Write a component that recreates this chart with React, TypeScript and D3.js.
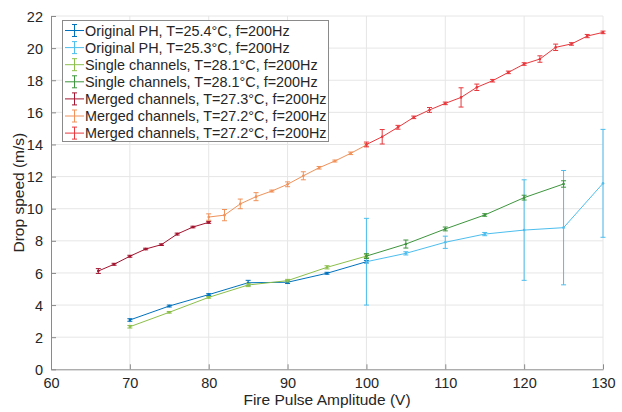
import React, { useEffect, useRef } from 'react';
import * as d3 from 'd3';

// x values (V), mean drop speed (m/s), error bar half-length
const phAX = [70, 75, 80, 85, 90, 95, 100];
const phAY = [3.07, 3.94, 4.65, 5.39, 5.42, 5.98, 6.70];
const phAE = [0.08, 0.06, 0.06, 0.15, 0.08, 0.06, 0.08];

const phBX = [100, 105, 110, 115, 120, 125, 130];
const phBY = [6.70, 7.22, 7.91, 8.42, 8.67, 8.82, 11.58];
const phBE = [2.7, 0.1, 0.38, 0.1, 3.13, 3.56, 3.36];

const singleAX = [70, 75, 80, 85, 90, 95, 100];
const singleAY = [2.65, 3.55, 4.48, 5.25, 5.52, 6.35, 7.05];
const singleAE = [0.08, 0.05, 0.05, 0.1, 0.08, 0.1, 0.08];

const singleBX = [100, 105, 110, 115, 120, 125];
const singleBY = [7.05, 7.80, 8.74, 9.61, 10.69, 11.54];
const singleBE = [0.15, 0.25, 0.12, 0.08, 0.15, 0.2];

const mergedAX = [66, 68, 70, 72, 74, 76, 78, 80];
const mergedAY = [6.12, 6.54, 7.04, 7.49, 7.76, 8.42, 8.86, 9.15];
const mergedAE = [0.15, 0.06, 0.06, 0.05, 0.05, 0.06, 0.05, 0.06];

const mergedBX = [80, 82, 84, 86, 88, 90, 92, 94, 96, 98, 100];
const mergedBY = [9.48, 9.6, 10.3, 10.75, 11.1, 11.52, 12.05, 12.55, 12.97, 13.45, 13.97];
const mergedBE = [0.2, 0.35, 0.3, 0.25, 0.06, 0.15, 0.25, 0.08, 0.06, 0.08, 0.08];

const mergedCX = [100, 102, 104, 106, 108, 110, 112, 114, 116, 118, 120, 122, 124, 126, 128, 130];
const mergedCY = [14.0, 14.48, 15.07, 15.69, 16.15, 16.56, 16.93, 17.56, 17.97, 18.49, 19.01, 19.32, 20.05, 20.26, 20.75, 20.98];
const mergedCE = [0.15, 0.45, 0.12, 0.08, 0.15, 0.08, 0.6, 0.2, 0.08, 0.08, 0.08, 0.2, 0.2, 0.08, 0.1, 0.08];

const legendLabels = [
    'Original PH, T=25.4°C, f=200Hz',
    'Original PH, T=25.3°C, f=200Hz',
    'Single channels, T=28.1°C, f=200Hz',
    'Single channels, T=28.1°C, f=200Hz',
    'Merged channels, T=27.3°C, f=200Hz',
    'Merged channels, T=27.2°C, f=200Hz',
    'Merged channels, T=27.2°C, f=200Hz',
];

const xTicks = [60, 70, 80, 90, 100, 110, 120, 130];
const yTicks = [0, 2, 4, 6, 8, 10, 12, 14, 16, 18, 20, 22];

const colors = ['#0072bd', '#4dbeee', '#8cbf4a', '#3d953d', '#a2142f', '#f0925a', '#e8383d'];

const series = [
    [phAX, phAY, phAE],
    [phBX, phBY, phBE],
    [singleAX, singleAY, singleAE],
    [singleBX, singleBY, singleBE],
    [mergedAX, mergedAY, mergedAE],
    [mergedBX, mergedBY, mergedBE],
    [mergedCX, mergedCY, mergedCE],
];

const FONT = 'Liberation Sans, Arial, sans-serif';

export default function App() {
    const ref = useRef<SVGSVGElement>(null);

    useEffect(() => {
        const svg = d3.select(ref.current);
        svg.selectAll('*').remove();

        const left = 51, right = 603, top = 16, bottom = 369.3;
        const x = d3.scaleLinear().domain([60, 130]).range([left, right]);
        const y = d3.scaleLinear().domain([0, 22]).range([bottom, top]);

        // grid
        const grid = svg.append('g');
        grid.selectAll('.vg').data(xTicks.slice(1)).enter().append('line')
            .attr('x1', d => x(d)).attr('x2', d => x(d))
            .attr('y1', top).attr('y2', bottom)
            .attr('stroke', '#e6e6e6').attr('stroke-width', 1);
        grid.selectAll('.hg').data(yTicks.slice(1)).enter().append('line')
            .attr('x1', left).attr('x2', right)
            .attr('y1', d => y(d)).attr('y2', d => y(d))
            .attr('stroke', '#e6e6e6').attr('stroke-width', 1);

        // axes (ticks inside, MATLAB style)
        const xAxis = svg.append('g')
            .attr('transform', `translate(0,${bottom})`)
            .call(d3.axisBottom(x).tickValues(xTicks).tickSizeInner(-5).tickSizeOuter(0).tickPadding(8));
        const yAxis = svg.append('g')
            .attr('transform', `translate(${left},0)`)
            .call(d3.axisLeft(y).tickValues(yTicks).tickSizeInner(-5).tickSizeOuter(0).tickPadding(8));
        [xAxis, yAxis].forEach(a => {
            a.select('.domain').attr('stroke', '#8a8a8a');
            a.selectAll('.tick line').attr('stroke', '#8a8a8a');
            a.selectAll('.tick text')
                .attr('fill', '#262626')
                .style('font-family', FONT)
                .style('font-size', '14.5px');
        });
        yAxis.selectAll('.tick text').attr('dy', '0.35em');

        // axis labels
        svg.append('text')
            .attr('x', (left + right) / 2).attr('y', 405)
            .attr('text-anchor', 'middle')
            .style('font-family', FONT).style('font-size', '15.5px')
            .attr('fill', '#262626')
            .text('Fire Pulse Amplitude (V)');
        svg.append('text')
            .attr('transform', `translate(24,${(top + bottom) / 2}) rotate(-90)`)
            .attr('text-anchor', 'middle')
            .style('font-family', FONT).style('font-size', '15.5px')
            .attr('fill', '#262626')
            .text('Drop speed (m/s)');

        // series: line + error bars + dots
        const cap = 2.5;
        series.forEach(([xs, ys, es], i) => {
            const pts = xs.map((v, j) => ({ x: v, y: ys[j], e: es[j] }));
            const g = svg.append('g');
            g.append('path')
                .datum(pts)
                .attr('fill', 'none')
                .attr('stroke', colors[i])
                .attr('stroke-width', 1)
                .attr('d', d3.line<any>().x(d => x(d.x)).y(d => y(d.y)));
            const eb = g.selectAll('.eb').data(pts).enter().append('g');
            eb.append('line')
                .attr('x1', d => x(d.x)).attr('x2', d => x(d.x))
                .attr('y1', d => y(d.y - d.e)).attr('y2', d => y(d.y + d.e))
                .attr('stroke', colors[i]).attr('stroke-width', 1);
            eb.append('line')
                .attr('x1', d => x(d.x) - cap).attr('x2', d => x(d.x) + cap)
                .attr('y1', d => y(d.y - d.e)).attr('y2', d => y(d.y - d.e))
                .attr('stroke', colors[i]).attr('stroke-width', 1);
            eb.append('line')
                .attr('x1', d => x(d.x) - cap).attr('x2', d => x(d.x) + cap)
                .attr('y1', d => y(d.y + d.e)).attr('y2', d => y(d.y + d.e))
                .attr('stroke', colors[i]).attr('stroke-width', 1);
            eb.append('circle')
                .attr('cx', d => x(d.x)).attr('cy', d => y(d.y))
                .attr('r', 1.3).attr('fill', colors[i]);
        });

        // legend
        const lg = svg.append('g');
        lg.append('rect')
            .attr('x', 62.5).attr('y', 20.5).attr('width', 266).attr('height', 121)
            .attr('fill', '#fff').attr('stroke', '#8a8a8a').attr('stroke-width', 1);
        legendLabels.forEach((label, i) => {
            const cy = 30.5 + i * 17.1;
            lg.append('line')
                .attr('x1', 65).attr('x2', 84).attr('y1', cy).attr('y2', cy)
                .attr('stroke', colors[i]).attr('stroke-width', 1);
            lg.append('line')
                .attr('x1', 74.5).attr('x2', 74.5).attr('y1', cy - 6).attr('y2', cy + 6)
                .attr('stroke', colors[i]).attr('stroke-width', 1);
            lg.append('line')
                .attr('x1', 72).attr('x2', 77).attr('y1', cy - 6).attr('y2', cy - 6)
                .attr('stroke', colors[i]).attr('stroke-width', 1);
            lg.append('line')
                .attr('x1', 72).attr('x2', 77).attr('y1', cy + 6).attr('y2', cy + 6)
                .attr('stroke', colors[i]).attr('stroke-width', 1);
            lg.append('text')
                .attr('x', 85).attr('y', cy).attr('dy', '0.35em')
                .style('font-family', FONT).style('font-size', '14.4px')
                .attr('fill', '#262626')
                .text(label);
        });
    }, []);

    return (
        <svg ref={ref} width={622} height={412}
             style={{ position: 'absolute', left: 0, top: 0, background: '#fff' }} />
    );
}
